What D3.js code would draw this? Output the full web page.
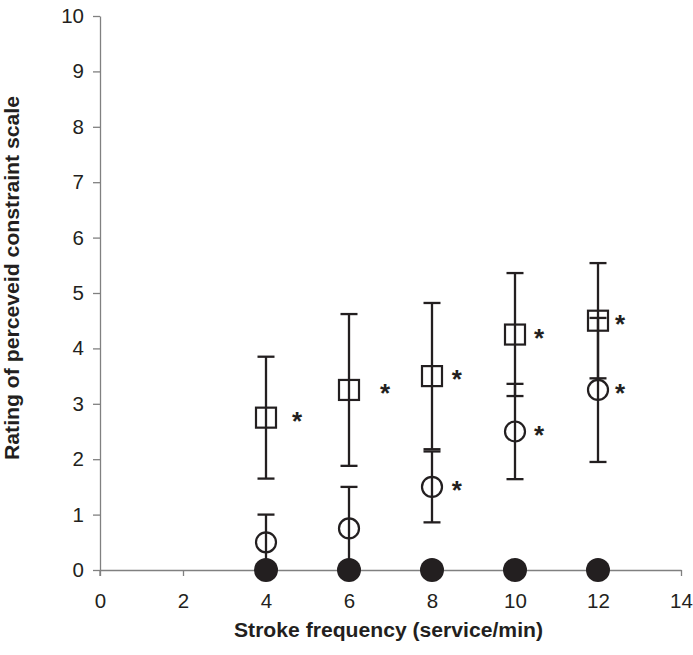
<!DOCTYPE html>
<html><head><meta charset="utf-8">
<script src="https://cdn.jsdelivr.net/npm/d3@7"></script>
<style>body{margin:0;background:#fff}svg{display:block}</style>
</head><body><div id="chart"></div>
<script>
const freqs = [4, 6, 8, 10, 12];
const squareMean = [2.75, 3.25, 3.5, 4.25, 4.5];
const squareErr  = [1.1, 1.37, 1.32, 1.11, 1.04];
const circleMean = [0.5, 0.75, 1.5, 2.5, 3.25];
const circleErr  = [0.5, 0.75, 0.64, 0.86, 1.3];
const filledMean = [0, 0, 0, 0, 0];
const squareStarX = [4.75, 6.87, 8.6, 10.58, 12.53];
const circleStarX = [null, null, 8.6, 10.58, 12.53];
const xTicks = [0, 2, 4, 6, 8, 10, 12, 14];
const yTicks = [0, 1, 2, 3, 4, 5, 6, 7, 8, 9, 10];
const xTitle = "Stroke frequency (service/min)";
const yTitle = "Rating of perceveid constraint scale";

const W = 693, H = 655;
const FONT = "Liberation Sans, Arial, sans-serif";
const svg = d3.select("#chart").append("svg").attr("width", W).attr("height", H);
const x = d3.scaleLinear().domain([0, 14]).range([100, 681]);
const y = d3.scaleLinear().domain([0, 10]).range([570, 16]);
const axisColor = "#808080", ink = "#231f20";

const xa = svg.append("g").attr("transform", `translate(0,${y(0)})`)
  .call(d3.axisBottom(x).tickValues(xTicks).tickSize(6).tickSizeOuter(0).tickPadding(17));
const ya = svg.append("g").attr("transform", `translate(${x(0)},0)`)
  .call(d3.axisLeft(y).tickValues(yTicks).tickSize(7).tickSizeOuter(0).tickPadding(9));
[xa, ya].forEach(g => {
  g.select(".domain").attr("stroke", axisColor).attr("stroke-width", 1.3);
  g.selectAll(".tick line").attr("stroke", axisColor).attr("stroke-width", 1.3);
  g.selectAll(".tick text").attr("fill", ink).attr("font-family", FONT).attr("font-size", 20.5);
});
svg.append("line").attr("x1", x(0)).attr("x2", x(0)).attr("y1", y(0)).attr("y2", y(0) + 6)
  .attr("stroke", axisColor).attr("stroke-width", 1.3);

svg.append("text").attr("x", 388.5).attr("y", 637).attr("text-anchor", "middle")
  .attr("font-family", FONT).attr("font-weight", "bold").attr("font-size", 20)
  .attr("textLength", 309).attr("lengthAdjust", "spacingAndGlyphs")
  .attr("fill", ink).text(xTitle);
svg.append("text").attr("transform", `translate(18.5,278) rotate(-90)`).attr("text-anchor", "middle")
  .attr("font-family", FONT).attr("font-weight", "bold").attr("font-size", 20)
  .attr("textLength", 364).attr("lengthAdjust", "spacingAndGlyphs")
  .attr("fill", ink).text(yTitle);

function errBars(means, errs) {
  const g = svg.append("g").attr("stroke", ink).attr("stroke-width", 2.3).attr("fill", "none");
  freqs.forEach((f, i) => {
    const lo = Math.max(0, means[i] - errs[i]), hi = means[i] + errs[i];
    g.append("line").attr("x1", x(f)).attr("x2", x(f)).attr("y1", y(lo)).attr("y2", y(hi));
    g.append("line").attr("x1", x(f) - 8.5).attr("x2", x(f) + 8.5).attr("y1", y(hi)).attr("y2", y(hi));
    if (means[i] - errs[i] > 0.01)
      g.append("line").attr("x1", x(f) - 8.5).attr("x2", x(f) + 8.5).attr("y1", y(lo)).attr("y2", y(lo));
  });
}
errBars(squareMean, squareErr);
errBars(circleMean, circleErr);

svg.append("g").selectAll("rect").data(freqs).join("rect")
  .attr("x", d => x(d) - 10).attr("y", (d, i) => y(squareMean[i]) - 10)
  .attr("width", 20).attr("height", 20).attr("fill", "none").attr("stroke", ink).attr("stroke-width", 2.2);
svg.append("g").selectAll("circle").data(freqs).join("circle")
  .attr("cx", d => x(d)).attr("cy", (d, i) => y(circleMean[i])).attr("r", 10)
  .attr("fill", "none").attr("stroke", ink).attr("stroke-width", 2.2);
svg.append("g").selectAll("circle").data(freqs).join("circle")
  .attr("cx", d => x(d)).attr("cy", (d, i) => y(filledMean[i])).attr("r", 12)
  .attr("fill", ink);

function stars(xs, means) {
  svg.append("g").selectAll("text").data(xs.map((v, i) => ({ v, m: means[i] })).filter(d => d.v != null))
    .join("text").attr("x", d => x(d.v)).attr("y", d => y(d.m) + 12).attr("text-anchor", "middle")
    .attr("font-family", FONT).attr("font-weight", "bold").attr("font-size", 26)
    .attr("fill", ink).text("*");
}
stars(squareStarX, squareMean);
stars(circleStarX, circleMean);
</script></body></html>
